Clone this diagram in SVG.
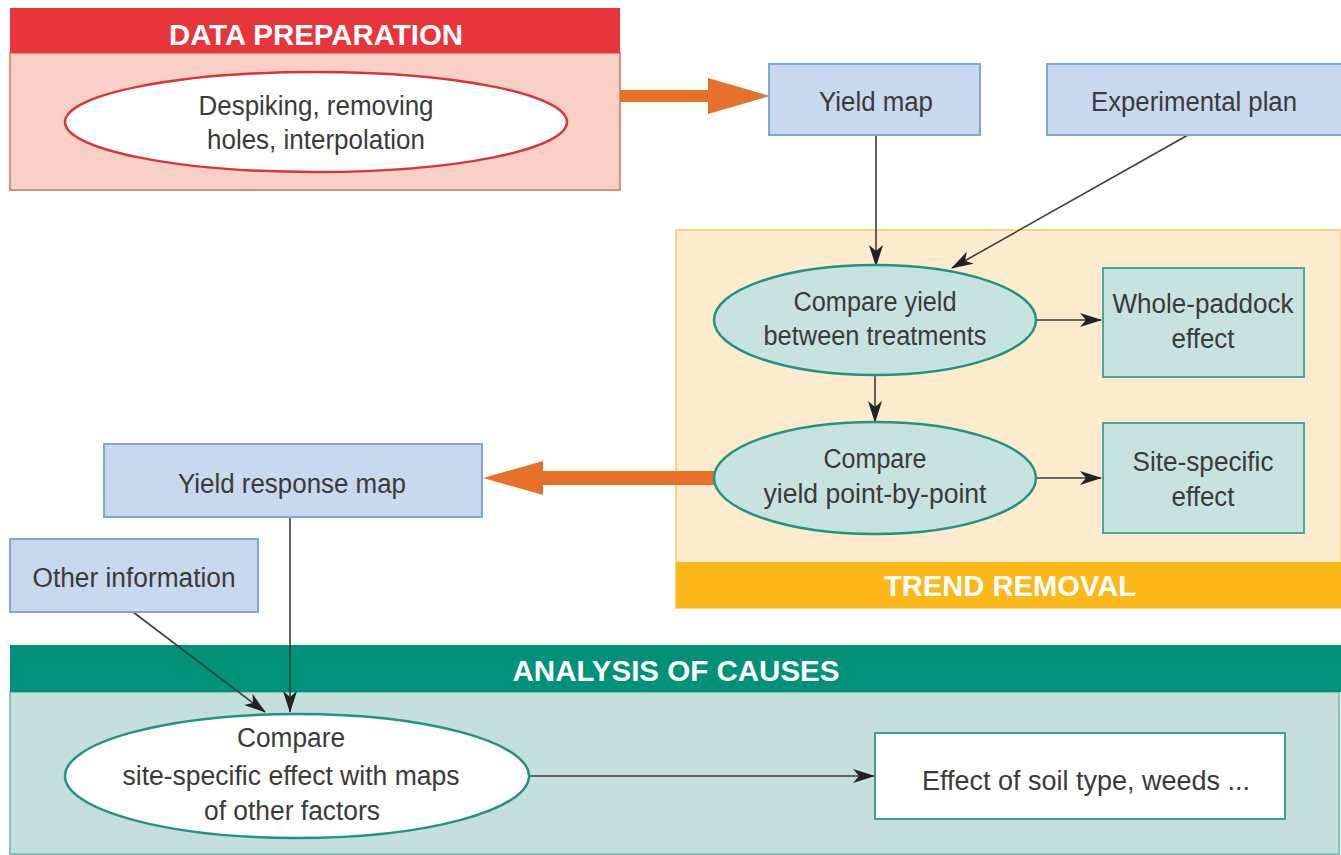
<svg xmlns="http://www.w3.org/2000/svg" width="1341" height="855" viewBox="0 0 1341 855">
<style>
.t{font-family:"Liberation Sans",Arial,sans-serif;font-size:27px;fill:#3a3a3a;text-anchor:middle}
.h{font-family:"Liberation Sans",Arial,sans-serif;font-size:29px;font-weight:bold;fill:#fff;text-anchor:middle}
.blue{fill:#c8d8ee;stroke:#7fa6d6;stroke-width:2}
.tealE{fill:#c6e3e0;stroke:#1f9580;stroke-width:2.5}
.tealB{fill:#c6e3e0;stroke:#45a898;stroke-width:2}
.conn{stroke:#3c3c3c;stroke-width:1.6;fill:none;marker-end:url(#ah)}
.orange{fill:#e8712a}
</style>
<defs>
<marker id="ah" viewBox="0 0 22 14" refX="21" refY="7" markerWidth="22" markerHeight="14" markerUnits="userSpaceOnUse" orient="auto">
<path d="M0,0 L22,7 L0,14 L6,7 Z" fill="#222"/>
</marker>
</defs>
<rect width="1341" height="855" fill="#fff"/>

<g id="panel-data-preparation">
<rect x="10" y="53" width="610" height="137" fill="#f9d0c6" stroke="#e38a7c" stroke-width="2"/>
<rect x="10" y="8" width="610" height="45" fill="#e8353b"/>
<text class="h" x="316" y="45" textLength="294" lengthAdjust="spacingAndGlyphs">DATA PREPARATION</text>
</g>
<g id="panel-trend-removal">
<rect x="676" y="230" width="665" height="378" fill="#fdebcd" stroke="#f5d48c" stroke-width="2"/>
<rect x="676" y="562" width="665" height="46" fill="#fbb818"/>
<text class="h" x="1010" y="596" textLength="252" lengthAdjust="spacingAndGlyphs">TREND REMOVAL</text>
</g>
<g id="panel-analysis">
<rect x="10" y="692" width="1329" height="162" fill="#c4dfdc" stroke="#7fc4b9" stroke-width="2"/>
<rect x="10" y="645" width="1331" height="47" fill="#00917a"/>
<text class="h" x="676" y="681" textLength="327" lengthAdjust="spacingAndGlyphs">ANALYSIS OF CAUSES</text>
</g>

<g id="connectors">
<path class="orange" d="M620,90 L708,90 L708,78 L770,96 L708,114 L708,102 L620,102 Z"/>
<path class="orange" d="M714,471 L543,471 L543,461 L483,478 L543,495 L543,485 L714,485 Z"/>
<line class="conn" x1="876" y1="135" x2="876" y2="266"/>
<line class="conn" x1="1188" y1="135" x2="952" y2="268"/>
<line class="conn" x1="1036" y1="320" x2="1101" y2="320"/>
<line class="conn" x1="875" y1="375" x2="875" y2="422"/>
<line class="conn" x1="1036" y1="478" x2="1101" y2="478"/>
<line class="conn" x1="290" y1="517" x2="290" y2="712"/>
<line class="conn" x1="133" y1="612" x2="265" y2="712"/>
<line class="conn" x1="529" y1="776" x2="874" y2="776"/>
</g>

<g id="node-despiking">
<ellipse cx="316" cy="122" rx="251" ry="50" fill="#fff" stroke="#d9343a" stroke-width="2.5"/>
<text class="t" x="316" y="115" textLength="235" lengthAdjust="spacingAndGlyphs">Despiking, removing</text>
<text class="t" x="316" y="149" textLength="218" lengthAdjust="spacingAndGlyphs">holes, interpolation</text>
</g>
<g id="node-yield-map">
<rect class="blue" x="769" y="64" width="211" height="71"/>
<text class="t" x="876" y="111" textLength="114" lengthAdjust="spacingAndGlyphs">Yield map</text>
</g>
<g id="node-experimental-plan">
<rect class="blue" x="1047" y="64" width="300" height="71"/>
<text class="t" x="1194" y="111" textLength="206" lengthAdjust="spacingAndGlyphs">Experimental plan</text>
</g>
<g id="node-compare-treatments">
<ellipse class="tealE" cx="875" cy="320" rx="161" ry="55"/>
<text class="t" x="875" y="311" textLength="163" lengthAdjust="spacingAndGlyphs">Compare yield</text>
<text class="t" x="875" y="345" textLength="223" lengthAdjust="spacingAndGlyphs">between treatments</text>
</g>
<g id="node-whole-paddock">
<rect class="tealB" x="1103" y="268" width="201" height="109"/>
<text class="t" x="1203" y="313" textLength="181" lengthAdjust="spacingAndGlyphs">Whole-paddock</text>
<text class="t" x="1203" y="348" textLength="63" lengthAdjust="spacingAndGlyphs">effect</text>
</g>
<g id="node-compare-point">
<ellipse class="tealE" cx="875" cy="478" rx="161" ry="56"/>
<text class="t" x="875" y="468" textLength="103" lengthAdjust="spacingAndGlyphs">Compare</text>
<text class="t" x="875" y="503" textLength="223" lengthAdjust="spacingAndGlyphs">yield point-by-point</text>
</g>
<g id="node-site-specific">
<rect class="tealB" x="1103" y="423" width="201" height="110"/>
<text class="t" x="1203" y="471" textLength="141" lengthAdjust="spacingAndGlyphs">Site-specific</text>
<text class="t" x="1203" y="506" textLength="63" lengthAdjust="spacingAndGlyphs">effect</text>
</g>
<g id="node-yield-response-map">
<rect class="blue" x="104" y="444" width="378" height="73"/>
<text class="t" x="292" y="493" textLength="228" lengthAdjust="spacingAndGlyphs">Yield response map</text>
</g>
<g id="node-other-information">
<rect class="blue" x="10" y="539" width="248" height="73"/>
<text class="t" x="134" y="587" textLength="203" lengthAdjust="spacingAndGlyphs">Other information</text>
</g>
<g id="node-compare-factors">
<ellipse cx="297" cy="776" rx="232" ry="62" fill="#fff" stroke="#1f9580" stroke-width="2.5"/>
<text class="t" x="291" y="747" textLength="108" lengthAdjust="spacingAndGlyphs">Compare</text>
<text class="t" x="291" y="785" textLength="337" lengthAdjust="spacingAndGlyphs">site-specific effect with maps</text>
<text class="t" x="292" y="820" textLength="176" lengthAdjust="spacingAndGlyphs">of other factors</text>
</g>
<g id="node-effect-soil">
<rect x="875" y="733" width="410" height="86" fill="#fff" stroke="#3f9d8e" stroke-width="2"/>
<text class="t" x="1086" y="790" textLength="328" lengthAdjust="spacingAndGlyphs">Effect of soil type, weeds ...</text>
</g>
</svg>
